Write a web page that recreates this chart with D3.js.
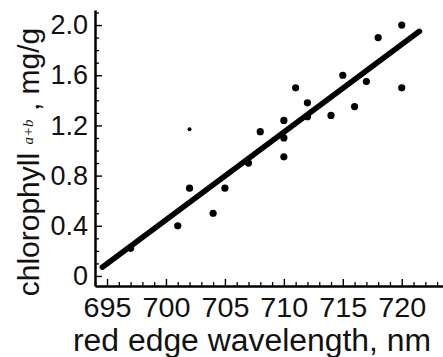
<!DOCTYPE html>
<html>
<head>
<meta charset="utf-8">
<script src="https://cdn.jsdelivr.net/npm/d3@7"></script>
<style>
  body { margin: 0; background: #fff; }
  svg { display: block; }
  text { font-family: "Liberation Sans", Arial, sans-serif; fill: #111; }
  .axis path, .axis line { stroke: #000; }
</style>
</head>
<body>
<svg id="chart"></svg>
<script>
// measured samples
var wavelength = [697, 701, 702, 704, 705, 707, 708, 710, 710, 710, 711, 712, 712, 714, 715, 716, 717, 718, 720, 720];
var chlorophyll = [0.22, 0.40, 0.70, 0.50, 0.70, 0.90, 1.15, 0.95, 1.10, 1.24, 1.50, 1.27, 1.38, 1.28, 1.60, 1.35, 1.55, 1.90, 1.50, 2.00];

// small outlier dot
var outlierWl = [702];
var outlierChl = [1.17];

// fitted line ends
var fitWl = [694.6, 721.5];
var fitChl = [0.07, 1.95];

var xTicks = [695, 700, 705, 710, 715, 720];
var yTicks = [0, 0.4, 0.8, 1.2, 1.6, 2.0];

var width = 443, height = 357;

var svg = d3.select("#chart")
  .attr("width", width)
  .attr("height", height);

var x = d3.scaleLinear().domain([693.98, 723.5]).range([95, 443]);
var y = d3.scaleLinear().domain([-0.08, 2.12]).range([286, 10]);

var points = wavelength.map(function (w, i) { return { w: w, c: chlorophyll[i] }; });
var small = outlierWl.map(function (w, i) { return { w: w, c: outlierChl[i] }; });
var fit = fitWl.map(function (w, i) { return { w: w, c: fitChl[i] }; });

// minor ticks
var xMinor = d3.range(694, 724).filter(function (d) { return d % 5 != 0; });
var yMinor = d3.range(0, 22).map(function (d) { return d / 10; }).filter(function (d) { return Math.round(d * 10) % 4 != 0; });

svg.append("g")
  .attr("class", "axis")
  .attr("transform", "translate(0,286)")
  .call(d3.axisBottom(x).tickValues(xMinor).tickSize(-4).tickFormat(""))
  .call(function (g) { g.select(".domain").remove(); })
  .selectAll("line").attr("stroke-width", 1.3);

svg.append("g")
  .attr("class", "axis")
  .attr("transform", "translate(95,0)")
  .call(d3.axisLeft(y).tickValues(yMinor).tickSize(-4).tickFormat(""))
  .call(function (g) { g.select(".domain").remove(); })
  .selectAll("line").attr("stroke-width", 1.3);

var xAxis = svg.append("g")
  .attr("class", "axis")
  .attr("transform", "translate(0,286)")
  .call(d3.axisBottom(x).tickValues(xTicks).tickSize(-7).tickSizeOuter(0).tickPadding(11));
xAxis.select(".domain").attr("stroke-width", 2.5);
xAxis.selectAll(".tick line").attr("stroke-width", 1.4);
xAxis.selectAll("text")
  .attr("font-size", 28)
  .attr("fill", "#111")
  .attr("textLength", 48)
  .attr("lengthAdjust", "spacingAndGlyphs");

var yAxis = svg.append("g")
  .attr("class", "axis")
  .attr("transform", "translate(95,0)")
  .call(d3.axisLeft(y).tickValues(yTicks).tickSize(-7).tickSizeOuter(0).tickPadding(7)
    .tickFormat(function (d) { return d === 0 ? "0" : d3.format(".1f")(d); }));
yAxis.select(".domain").attr("stroke-width", 2.5);
yAxis.selectAll(".tick line").attr("stroke-width", 1.4);
yAxis.selectAll("text").attr("font-size", 27).attr("fill", "#111");

// regression line
var line = d3.line()
  .x(function (d) { return x(d.w); })
  .y(function (d) { return y(d.c); });

svg.append("path")
  .datum(fit)
  .attr("d", line)
  .attr("fill", "none")
  .attr("stroke", "#000")
  .attr("stroke-width", 5.5)
  .attr("stroke-linecap", "round");

svg.selectAll(".dot")
  .data(points)
  .enter()
  .append("circle")
  .attr("class", "dot")
  .attr("cx", function (d) { return x(d.w); })
  .attr("cy", function (d) { return y(d.c); })
  .attr("r", 3.6)
  .attr("fill", "#000");

svg.selectAll(".smalldot")
  .data(small)
  .enter()
  .append("circle")
  .attr("class", "smalldot")
  .attr("cx", function (d) { return x(d.w); })
  .attr("cy", function (d) { return y(d.c); })
  .attr("r", 2)
  .attr("fill", "#000");

// axis titles
svg.append("text")
  .attr("x", 252)
  .attr("y", 351)
  .attr("text-anchor", "middle")
  .attr("font-size", 31)
  .attr("textLength", 358)
  .attr("lengthAdjust", "spacingAndGlyphs")
  .text("red edge wavelength, nm");

var yl = svg.append("text")
  .attr("transform", "translate(39,162) rotate(-90)")
  .attr("text-anchor", "middle")
  .attr("font-size", 30);
yl.append("tspan").text("chlorophyll ");
yl.append("tspan")
  .attr("font-size", 15)
  .attr("font-style", "italic")
  .attr("font-family", "Liberation Serif, serif")
  .attr("dy", -6)
  .text("a+b");
yl.append("tspan").attr("dy", 6).text(" , mg/g");
</script>
</body>
</html>
